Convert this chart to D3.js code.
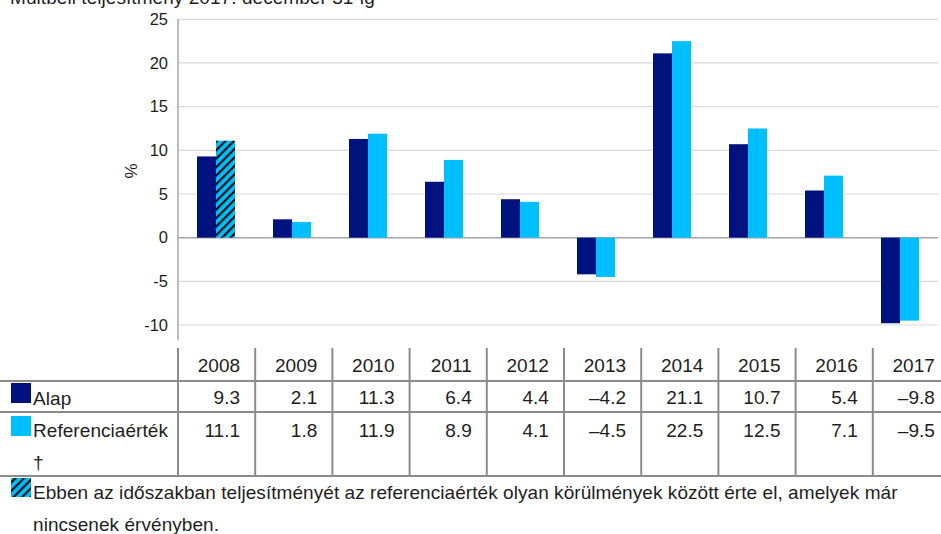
<!DOCTYPE html>
<html><head><meta charset="utf-8">
<script src="https://cdn.jsdelivr.net/npm/d3@7"></script>
<style>body{margin:0;background:#fff;overflow:hidden}svg{display:block}text{font-family:"Liberation Sans",Arial,sans-serif;fill:#1e1e1e}</style>
</head><body>
<svg id="c" width="941" height="534"></svg>
<script>
const years = ["2008","2009","2010","2011","2012","2013","2014","2015","2016","2017"];
const alap = [9.3, 2.1, 11.3, 6.4, 4.4, -4.2, 21.1, 10.7, 5.4, -9.8];
const referencia = [11.1, 1.8, 11.9, 8.9, 4.1, -4.5, 22.5, 12.5, 7.1, -9.5];
const hatchedYears = ["2008"];
const yTicks = [-10, -5, 0, 5, 10, 15, 20, 25];
const seriesNames = ["Alap", "Referenciaérték", "†"];
const title = "Múltbeli teljesítmény 2017. december 31-ig";
const footnote = ["Ebben az időszakban teljesítményét az referenciaérték olyan körülmények között érte el, amelyek már", "nincsenek érvényben."];

const navy = "#00127d", light = "#00bfff";
const svg = d3.select("#c");
const defs = svg.append("defs");
const pat = defs.append("pattern").attr("id","hatch").attr("patternUnits","userSpaceOnUse")
  .attr("width",6).attr("height",6).attr("patternTransform","rotate(45)");
pat.append("rect").attr("width",6).attr("height",6).attr("fill",light);
pat.append("rect").attr("x",0).attr("width",2.2).attr("height",6).attr("fill","#111");

const x = d3.scaleBand().domain(years).range([178, 938]);
const y = d3.scaleLinear().domain([-10, 25]).range([325, 19.3]);

const fs = 19, ls = "0.06px";

// title
svg.append("text").attr("x",10).attr("y",4).attr("font-size",fs).attr("letter-spacing",ls).attr("fill","#333").text(title);

// gridlines
svg.append("g").selectAll("line").data(yTicks).join("line")
  .attr("x1",178).attr("x2",938).attr("y1",d=>y(d)).attr("y2",d=>y(d))
  .attr("stroke",d=>d===0?"#a6a6a6":"#d9d9d9").attr("stroke-width",d=>d===0?1.5:1.2);

// y axis
const yAxis = d3.axisLeft(y).tickValues(yTicks).tickSize(0).tickPadding(10).tickFormat(d=>d<0?"-"+Math.abs(d):d);
const ga = svg.append("g").attr("transform","translate(178,0)").call(yAxis);
ga.select(".domain").remove();
ga.selectAll("text").attr("font-size",16.5).attr("fill","#1e1e1e").attr("font-family","Liberation Sans, Arial, sans-serif");
svg.append("line").attr("x1",178).attr("x2",178).attr("y1",19).attr("y2",340).attr("stroke","#a6a6a6").attr("stroke-width",1.5);
svg.append("text").attr("transform","translate(137,171) rotate(-90)").attr("text-anchor","middle").attr("font-size",17).text("%");

// bars
const bw = 19;
const gb = svg.append("g");
gb.selectAll(".a").data(years).join("rect")
  .attr("x",d=>x(d)+x.bandwidth()/2-bw).attr("width",bw)
  .attr("y",(d,i)=>y(Math.max(0,alap[i]))).attr("height",(d,i)=>Math.abs(y(alap[i])-y(0)))
  .attr("fill",navy);
gb.selectAll(".r").data(years).join("rect")
  .attr("x",d=>x(d)+x.bandwidth()/2).attr("width",bw)
  .attr("y",(d,i)=>y(Math.max(0,referencia[i]))).attr("height",(d,i)=>Math.abs(y(referencia[i])-y(0)))
  .attr("fill",d=>hatchedYears.includes(d)?"url(#hatch)":light);

// table
const tx = d3.scaleBand().domain(years).range([178, 950]);
const lineC = "#8c8c8c";
const tg = svg.append("g").attr("letter-spacing",ls);
[381, 412, 476].forEach(v=>tg.append("line").attr("x1",0).attr("x2",941).attr("y1",v).attr("y2",v).attr("stroke",lineC).attr("stroke-width",2));
tg.selectAll(".v").data(years).join("line")
  .attr("x1",d=>tx(d)).attr("x2",d=>tx(d)).attr("y1",348).attr("y2",476)
  .attr("stroke",lineC).attr("stroke-width",2);
tg.selectAll(".h").data(years).join("text").attr("x",d=>tx(d)+tx.bandwidth()-15).attr("y",372)
  .attr("text-anchor","end").attr("font-size",fs).text(d=>d);
tg.selectAll(".va").data(years).join("text").attr("x",d=>tx(d)+tx.bandwidth()-15).attr("y",404)
  .attr("text-anchor","end").attr("font-size",fs).text((d,i)=>alap[i].toFixed(1).replace("-","\u2013"));
tg.selectAll(".vr").data(years).join("text").attr("x",d=>tx(d)+tx.bandwidth()-15).attr("y",437)
  .attr("text-anchor","end").attr("font-size",fs).text((d,i)=>referencia[i].toFixed(1).replace("-","\u2013"));

// legend
tg.append("rect").attr("x",11).attr("y",383).attr("width",20).attr("height",20).attr("fill",navy);
tg.append("rect").attr("x",11).attr("y",416).attr("width",20).attr("height",20).attr("fill",light);
tg.append("text").attr("x",33).attr("y",405).attr("font-size",fs).text(seriesNames[0]);
tg.append("text").attr("x",33).attr("y",437).attr("font-size",fs).text(seriesNames[1]);
tg.append("text").attr("x",33).attr("y",469).attr("font-size",fs).text(seriesNames[2]);

// footnote
tg.append("rect").attr("x",11).attr("y",478).attr("width",20).attr("height",19).attr("fill","url(#hatch)");
tg.append("text").attr("x",33).attr("y",499).attr("font-size",fs).text(footnote[0]);
tg.append("text").attr("x",33).attr("y",531).attr("font-size",fs).text(footnote[1]);
</script>
</body></html>
